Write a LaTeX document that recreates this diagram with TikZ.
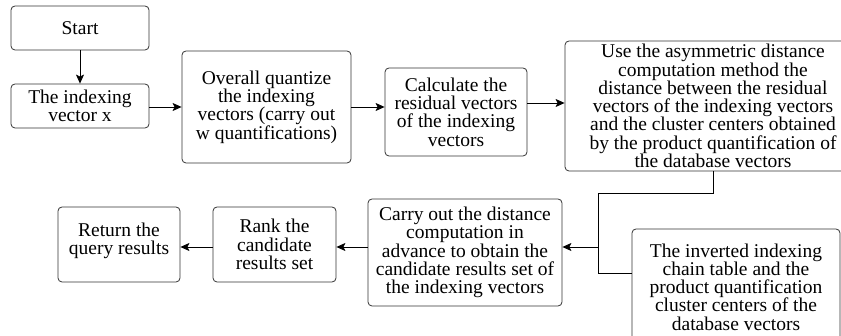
\documentclass[tikz,border=0pt]{standalone}
\usepackage{fontspec}
\setmainfont{Liberation Serif}
\usetikzlibrary{arrows.meta}
\begin{document}
\begin{tikzpicture}[x=1pt,y=-1pt,
  box/.style={draw=black!80, line width=0.8pt, rounded corners=4pt, align=center,
    inner sep=0pt, font=\fontsize{19.5pt}{18.3pt}\selectfont},
  conn/.style={line width=0.8pt, draw=black},
  arr/.style={conn, -{Stealth[length=9pt,width=8pt,inset=2pt]}}]
\clip (0,0) rectangle (841,336);
\useasboundingbox (0,0) rectangle (841,336);
\node[box, minimum width=138pt, minimum height=44pt] (start) at (80,28) {Start};
\node[box, minimum width=138pt, minimum height=44pt] (vec) at (80,106) {The indexing\\vector x};
\node[box, minimum width=169pt, minimum height=112pt] (quant) at (266.5,107) {Overall quantize\\the indexing\\vectors (carry out\\w quantifications)};
\node[box, minimum width=142pt, minimum height=88pt] (calc) at (456,112) {Calculate the\\residual vectors\\of the indexing\\vectors};
\node[box, minimum width=296pt, minimum height=130pt] (big) at (713,106) {Use the asymmetric distance\\computation method the\\distance between the residual\\vectors of the indexing vectors\\and the cluster centers obtained\\by the product quantification of\\the database vectors};
\node[box, minimum width=194pt, minimum height=107pt] (carry) at (465,252.5) {Carry out the distance\\computation in\\advance to obtain the\\candidate results set of\\the indexing vectors};
\node[box, minimum width=123pt, minimum height=75pt] (rank) at (274.5,244.5) {Rank the\\candidate\\results set};
\node[box, minimum width=122pt, minimum height=75pt] (ret) at (119,244.5) {Return the\\query results\\[-7pt]};
\node[box, minimum width=208pt, minimum height=116pt] (inv) at (736,287) {The inverted indexing\\chain table and the\\product quantification\\cluster centers of the\\database vectors};
\coordinate (junc) at (598,247);
\draw[arr] (start) -- (vec);
\draw[arr] (vec.east |- 0,107) -- (quant.west |- 0,107);
\draw[arr] (quant.east |- 0,107) -- (calc.west |- 0,107);
\draw[arr] (calc.east |- 0,103) -- (big.west |- 0,103);
\draw[conn] (big.south) -- (713,193) -| (junc);
\draw[conn] (inv.west |- 0,273) -| (junc);
\draw[arr] (junc) -- (carry.east |- junc);
\draw[arr] (carry.west |- 0,247) -- (rank.east |- 0,247);
\draw[arr] (rank.west |- 0,247) -- (ret.east |- 0,247);
\end{tikzpicture}
\end{document}
